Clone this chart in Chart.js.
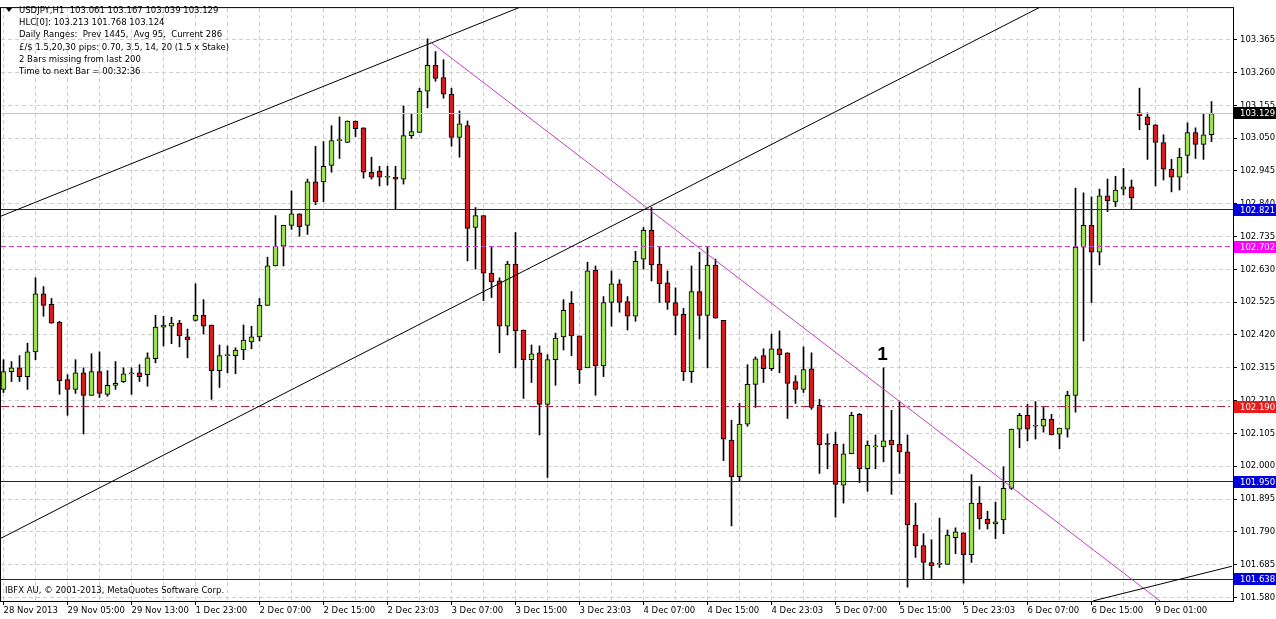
<!DOCTYPE html>
<html>
<head>
<meta charset="utf-8">
<script src="https://cdn.jsdelivr.net/npm/chart.js@4.4.0/dist/chart.umd.min.js"></script>
<style>
html, body { margin: 0; padding: 0; background: #fff; }
#wrap { width: 1276px; height: 619px; position: relative; }
</style>
</head>
<body>
<div id="wrap"><canvas id="chart"></canvas></div>
<script>
// USDJPY H1 bars, oldest first
const opens = [102.246, 102.303, 102.315, 102.287, 102.366, 102.552, 102.518, 102.461, 102.277, 102.246,
    102.299, 102.227, 102.303, 102.230, 102.259, 102.271, 102.296, 102.299, 102.293, 102.344,
    102.445, 102.448, 102.458, 102.414, 102.467, 102.483, 102.452, 102.306, 102.354, 102.354,
    102.372, 102.398, 102.414, 102.515, 102.641, 102.704, 102.771, 102.808, 102.771, 102.910,
    102.910, 102.963, 103.042, 103.036, 103.105, 103.083, 102.941, 102.944, 102.925, 102.925,
    102.919, 103.058, 103.068, 103.200, 103.283, 103.244, 103.191, 103.052, 103.090, 102.764,
    102.802, 102.618, 102.593, 102.448, 102.647, 102.436, 102.341, 102.363, 102.198, 102.341,
    102.414, 102.521, 102.417, 102.315, 102.628, 102.321, 102.524, 102.584, 102.527, 102.480,
    102.663, 102.755, 102.647, 102.587, 102.524, 102.486, 102.303, 102.559, 102.483, 102.644,
    102.467, 102.084, 101.967, 102.135, 102.262, 102.354, 102.312, 102.376, 102.363, 102.271,
    102.246, 102.312, 102.195, 102.071, 102.071, 101.939, 102.040, 102.166, 101.992, 102.062,
    102.062, 102.084, 102.071, 102.046, 101.812, 101.746, 101.692, 101.686, 101.686, 101.771,
    101.787, 101.717, 101.882, 101.831, 101.815, 101.828, 101.929, 102.119, 102.163, 102.128,
    102.128, 102.150, 102.103, 102.119, 102.227, 102.701, 102.771, 102.685, 102.865, 102.846,
    102.887, 102.894, 103.131, 103.118, 103.093, 103.036, 102.951, 102.925, 102.995, 103.068,
    103.030, 103.061];

const highs = [102.341, 102.335, 102.354, 102.394, 102.603, 102.575, 102.537, 102.464, 102.293, 102.341,
    102.315, 102.360, 102.366, 102.306, 102.335, 102.315, 102.315, 102.325, 102.363, 102.483,
    102.480, 102.477, 102.467, 102.439, 102.584, 102.533, 102.452, 102.388, 102.385, 102.379,
    102.452, 102.448, 102.537, 102.669, 102.802, 102.771, 102.881, 102.808, 102.919, 103.024,
    103.039, 103.090, 103.118, 103.105, 103.105, 103.083, 102.989, 102.960, 102.960, 102.960,
    103.153, 103.128, 103.210, 103.368, 103.327, 103.301, 103.210, 103.137, 103.105, 102.828,
    102.802, 102.704, 102.603, 102.656, 102.748, 102.436, 102.388, 102.385, 102.357, 102.426,
    102.533, 102.559, 102.417, 102.653, 102.641, 102.543, 102.625, 102.597, 102.543, 102.688,
    102.764, 102.828, 102.701, 102.625, 102.571, 102.505, 102.641, 102.685, 102.701, 102.663,
    102.467, 102.147, 102.201, 102.325, 102.350, 102.376, 102.423, 102.433, 102.363, 102.290,
    102.382, 102.363, 102.214, 102.103, 102.109, 102.071, 102.173, 102.169, 102.081, 102.100,
    102.315, 102.179, 102.207, 102.100, 101.882, 101.784, 101.765, 101.834, 101.796, 101.803,
    101.787, 101.973, 101.935, 101.856, 101.885, 101.998, 102.119, 102.169, 102.198, 102.207,
    102.191, 102.166, 102.122, 102.240, 102.890, 102.875, 102.862, 102.887, 102.919, 102.928,
    102.953, 102.916, 103.210, 103.131, 103.093, 103.061, 102.982, 103.017, 103.099, 103.083,
    103.128, 103.167];

const lows = [102.236, 102.271, 102.271, 102.246, 102.341, 102.480, 102.458, 102.230, 102.163, 102.233,
    102.103, 102.227, 102.220, 102.224, 102.246, 102.268, 102.230, 102.271, 102.256, 102.331,
    102.385, 102.392, 102.382, 102.347, 102.464, 102.423, 102.214, 102.252, 102.299, 102.296,
    102.341, 102.376, 102.401, 102.515, 102.641, 102.641, 102.758, 102.736, 102.742, 102.837,
    102.846, 102.941, 102.985, 103.036, 103.055, 102.922, 102.919, 102.897, 102.900, 102.821,
    102.903, 103.049, 103.068, 103.147, 103.232, 103.178, 103.024, 102.989, 102.657, 102.631,
    102.530, 102.540, 102.363, 102.420, 102.315, 102.217, 102.268, 102.100, 101.964, 102.259,
    102.372, 102.354, 102.265, 102.315, 102.227, 102.287, 102.448, 102.493, 102.436, 102.464,
    102.631, 102.593, 102.524, 102.502, 102.420, 102.274, 102.268, 102.407, 102.315, 102.474,
    102.018, 101.809, 101.951, 102.128, 102.188, 102.268, 102.306, 102.299, 102.153, 102.201,
    102.236, 102.182, 101.977, 101.992, 101.837, 101.882, 102.040, 101.948, 101.920, 101.992,
    102.014, 101.910, 101.977, 101.613, 101.708, 101.638, 101.638, 101.676, 101.686, 101.720,
    101.626, 101.692, 101.799, 101.799, 101.768, 101.784, 101.926, 102.059, 102.081, 102.087,
    102.109, 102.100, 102.056, 102.093, 102.173, 102.401, 102.524, 102.644, 102.815, 102.831,
    102.868, 102.821, 103.077, 102.982, 102.897, 102.916, 102.878, 102.884, 102.938, 102.985,
    102.982, 103.039];

const closes = [102.303, 102.315, 102.287, 102.366, 102.552, 102.515, 102.458, 102.274, 102.246, 102.299,
    102.227, 102.303, 102.233, 102.259, 102.265, 102.296, 102.296, 102.287, 102.347, 102.445,
    102.452, 102.458, 102.417, 102.404, 102.483, 102.448, 102.306, 102.354, 102.354, 102.372,
    102.404, 102.414, 102.515, 102.641, 102.704, 102.771, 102.808, 102.767, 102.910, 102.846,
    102.960, 103.042, 103.042, 103.105, 103.080, 102.941, 102.925, 102.925, 102.925, 102.919,
    103.058, 103.071, 103.200, 103.283, 103.241, 103.191, 103.052, 103.096, 102.761, 102.802,
    102.618, 102.590, 102.448, 102.647, 102.433, 102.341, 102.360, 102.198, 102.341, 102.410,
    102.499, 102.417, 102.309, 102.625, 102.321, 102.524, 102.584, 102.524, 102.480, 102.656,
    102.755, 102.644, 102.584, 102.524, 102.483, 102.303, 102.559, 102.483, 102.644, 102.474,
    102.087, 101.967, 102.135, 102.262, 102.344, 102.312, 102.376, 102.357, 102.265, 102.246,
    102.309, 102.188, 102.068, 102.070, 101.942, 102.040, 102.163, 101.992, 102.068, 102.062,
    102.081, 102.068, 102.046, 101.812, 101.746, 101.692, 101.682, 101.686, 101.780, 101.790,
    101.717, 101.882, 101.831, 101.815, 101.822, 101.929, 102.119, 102.163, 102.119, 102.128,
    102.150, 102.100, 102.122, 102.227, 102.701, 102.771, 102.685, 102.865, 102.849, 102.884,
    102.894, 102.859, 103.122, 103.093, 103.036, 102.951, 102.925, 102.989, 103.068, 103.030,
    103.061, 103.129];

// one label every 8 bars
const timeLabels = ['28 Nov 2013', '29 Nov 05:00', '29 Nov 13:00', '1 Dec 23:00', '2 Dec 07:00',
    '2 Dec 15:00', '2 Dec 23:03', '3 Dec 07:00', '3 Dec 15:00', '3 Dec 23:03', '4 Dec 07:00',
    '4 Dec 15:00', '4 Dec 23:03', '5 Dec 07:00', '5 Dec 15:00', '5 Dec 23:03', '6 Dec 07:00',
    '6 Dec 15:00', '9 Dec 01:00'];

const priceTicks = [101.580, 101.685, 101.790, 101.895, 102.000, 102.105, 102.210, 102.315, 102.420,
    102.525, 102.630, 102.735, 102.840, 102.945, 103.050, 103.155, 103.260, 103.365];

// horizontal levels drawn on the chart
const levelPrices = [102.821, 102.702, 102.190, 101.950, 101.638];
const bidPrice = 103.129;

// trend lines as [bar index, price] pairs
const trendLines = [
    [[-0.44, 102.799], [64.56, 103.469]],
    [[-0.44, 101.768], [129.56, 103.469]],
    [[53.31, 103.359], [144.56, 101.569]],
    [[136.19, 101.569], [153.56, 101.680]]
];

const markerBar = 110;
const markerText = '1';

const infoLines = [
    'USDJPY,H1  103.061 103.167 103.039 103.129',
    'HLC[0]: 103.213 101.768 103.124',
    'Daily Ranges:  Prev 1445,  Avg 95,  Current 286',
    '£/$ 1.5,20,30 pips: 0.70, 3.5, 14, 20 (1.5 x Stake)',
    '2 Bars missing from last 200',
    'Time to next Bar = 00:32:36'
];
const copyright = 'IBFX AU, © 2001-2013, MetaQuotes Software Corp.';

const FONT = 'DejaVu Sans';
const bull = '#9be04e';
const bear = '#d41e1e';

const bodies = opens.map((o, i) => ({ x: i, y: [o, closes[i]] }));
const wicks = lows.map((l, i) => ({ x: i, y: [l, highs[i]] }));
const bodyColors = opens.map((o, i) => closes[i] >= o ? bull : bear);

const levelStyles = [
    { line: '#1818a0', dash: [], box: '#0000e0' },
    { line: '#c040c0', dash: [5, 3], box: '#ff00ff' },
    { line: '#b02040', dash: [8, 3, 2, 3], box: '#e81c1c' },
    { line: '#1818a0', dash: [], box: '#0000e0' },
    { line: '#1818a0', dash: [], box: '#0000e0' }
];
const trendColors = ['#000000', '#000000', '#c040c0', '#000000'];

function crisp(v) {
    return Math.round(v - 0.5) + 0.5;
}

function priceBox(ctx, y, text, color) {
    const yy = Math.round(y);
    ctx.fillStyle = color;
    ctx.fillRect(1234, yy - 6, 42, 12);
    ctx.fillStyle = '#ffffff';
    ctx.font = '8.5px ' + FONT;
    ctx.textAlign = 'left';
    ctx.textBaseline = 'middle';
    ctx.fillText(text, 1240, yy + 0.5);
}

const overlay = {
    id: 'overlay',
    afterDatasetsDraw(chart) {
        const { ctx, chartArea: a, scales: { x, y } } = chart;
        ctx.save();
        ctx.beginPath();
        ctx.rect(a.left, a.top, a.right - a.left, a.bottom - a.top);
        ctx.clip();
        ctx.lineWidth = 1;

        // bid line
        let py = crisp(y.getPixelForValue(bidPrice));
        ctx.strokeStyle = '#c4c4c4';
        ctx.setLineDash([]);
        ctx.beginPath();
        ctx.moveTo(a.left, py);
        ctx.lineTo(a.right, py);
        ctx.stroke();

        levelPrices.forEach((p, i) => {
            const s = levelStyles[i];
            const yy = crisp(y.getPixelForValue(p));
            ctx.strokeStyle = s.line;
            ctx.setLineDash(s.dash);
            ctx.beginPath();
            ctx.moveTo(a.left, yy);
            ctx.lineTo(a.right, yy);
            ctx.stroke();
        });

        ctx.setLineDash([]);
        trendLines.forEach((ln, i) => {
            ctx.strokeStyle = trendColors[i];
            ctx.beginPath();
            ctx.moveTo(x.getPixelForValue(ln[0][0]), y.getPixelForValue(ln[0][1]));
            ctx.lineTo(x.getPixelForValue(ln[1][0]), y.getPixelForValue(ln[1][1]));
            ctx.stroke();
        });
        ctx.restore();
    },
    afterDraw(chart) {
        const { ctx, chartArea: a, scales: { x, y } } = chart;
        ctx.save();

        // frame
        ctx.strokeStyle = '#000';
        ctx.lineWidth = 1;
        ctx.strokeRect(a.left - 0.5, a.top - 0.5, a.right - a.left + 1, a.bottom - a.top + 1);

        // info block
        ctx.fillStyle = '#000';
        ctx.font = '8.5px ' + FONT;
        ctx.textAlign = 'left';
        ctx.textBaseline = 'middle';
        infoLines.forEach((t, i) => ctx.fillText(t, 19, 10.5 + i * 12.3));
        ctx.beginPath();
        ctx.moveTo(6, 8);
        ctx.lineTo(12, 8);
        ctx.lineTo(9, 12);
        ctx.closePath();
        ctx.fill();

        ctx.fillText(copyright, 5, 591);

        // marker
        ctx.font = 'bold 19px Liberation Sans';
        ctx.textAlign = 'center';
        ctx.fillText(markerText, x.getPixelForValue(markerBar) - 1, y.getPixelForValue(highs[markerBar]) - 13);

        // price boxes on the right axis
        priceBox(ctx, y.getPixelForValue(bidPrice), bidPrice.toFixed(3), '#000000');
        levelPrices.forEach((p, i) => priceBox(ctx, y.getPixelForValue(p), p.toFixed(3), levelStyles[i].box));
        ctx.restore();
    }
};

new Chart(document.getElementById('chart'), {
    type: 'bar',
    data: {
        datasets: [{
            label: 'body',
            data: bodies,
            order: 0,
            grouped: false,
            barThickness: 5,
            minBarLength: 1,
            backgroundColor: bodyColors,
            borderColor: '#000',
            borderWidth: 1,
            borderSkipped: false
        }, {
            label: 'wick',
            data: wicks,
            order: 1,
            grouped: false,
            barThickness: 1,
            backgroundColor: '#000',
            borderWidth: 0
        }]
    },
    options: {
        responsive: true,
        maintainAspectRatio: false,
        animation: false,
        layout: { padding: { left: 1, top: 1, right: 0, bottom: 0 } },
        plugins: { legend: { display: false }, tooltip: { enabled: false } },
        scales: {
            x: {
                type: 'linear',
                min: -0.3125,
                max: 153.6875,
                offset: false,
                afterBuildTicks: s => {
                    const t = [];
                    for (let i = 0; i <= 152; i += 4) t.push({ value: i });
                    s.ticks = t;
                },
                afterFit: s => { s.height = 18; },
                grid: {
                    offset: false,
                    color: '#cfcfcf',
                    tickLength: 4,
                    tickColor: c => (c.tick && c.tick.value % 8 === 0) ? '#000' : 'rgba(0,0,0,0)'
                },
                border: { display: false, dash: [4, 3] },
                ticks: {
                    autoSkip: false,
                    maxRotation: 0,
                    align: 'start',
                    padding: 1,
                    color: '#000',
                    font: { family: FONT, size: 8.5 },
                    callback: v => v % 8 === 0 ? timeLabels[v / 8] : ''
                }
            },
            y: {
                type: 'linear',
                position: 'right',
                min: 101.5687,
                max: 103.4662,
                afterBuildTicks: s => { s.ticks = priceTicks.map(v => ({ value: v })); },
                afterFit: s => { s.width = 43; },
                grid: { color: '#cfcfcf', tickLength: 4, tickColor: '#000' },
                border: { display: false, dash: [4, 3] },
                ticks: {
                    autoSkip: false,
                    padding: 3,
                    color: '#000',
                    font: { family: FONT, size: 8.5 },
                    callback: v => v.toFixed(3)
                }
            }
        }
    },
    plugins: [overlay]
});
</script>
</body>
</html>
